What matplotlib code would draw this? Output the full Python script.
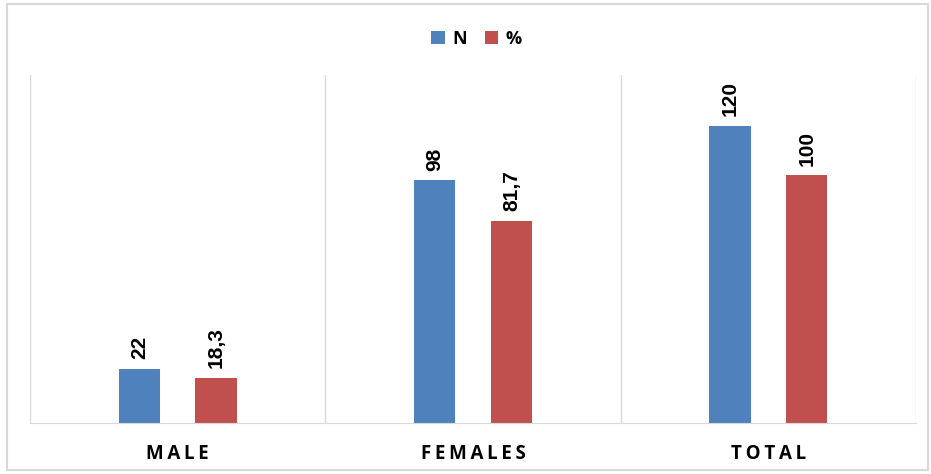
import matplotlib.pyplot as plt
import numpy as np
from matplotlib.patches import Rectangle

# === Data ===
categories = ["MALE", "FEMALES", "TOTAL"]
n_values = [22, 98, 120]
pct_values = [18.3, 81.7, 100]
pct_labels = ["18,3", "81,7", "100"]

blue = "#4f81bd"
red = "#c0504d"
grid_col = "#d9d9d9"

fig = plt.figure(figsize=(9.31, 4.74), dpi=100)
ax = fig.add_axes([30 / 931, 51 / 474, 886 / 931, 348 / 474])

x = np.arange(len(categories))
w = 0.14
off = 0.13
bars_n = ax.bar(x - off, n_values, w, color=blue, label="N")
bars_p = ax.bar(x + off, pct_values, w, color=red, label="%")

# value labels, rotated like the original
lab_font = dict(rotation=90, ha="center", va="bottom", fontsize=15,
                fontweight="bold", family=["Liberation Sans Narrow", "Liberation Sans"])
for b, v in zip(bars_n, n_values):
    ax.annotate(str(v), (b.get_x() + b.get_width() / 2, b.get_height()),
                xytext=(0, 7), textcoords="offset points", **lab_font)
for b, s in zip(bars_p, pct_labels):
    ax.annotate(s, (b.get_x() + b.get_width() / 2, b.get_height()),
                xytext=(0, 7), textcoords="offset points", **lab_font)

ax.set_xlim(-0.5, len(categories) - 0.5)
ax.set_ylim(0, 140.6)

# category separators
for xb in np.arange(-0.5, len(categories), 1.0):
    ax.axvline(xb, color=grid_col, lw=1, zorder=0)

for s in ["top", "left", "right"]:
    ax.spines[s].set_visible(False)
ax.spines["bottom"].set_color(grid_col)
ax.set_yticks([])
ax.set_xticks(x)
# letter-spaced category names
ax.set_xticklabels(["\u2009".join(c) for c in categories], fontsize=13.5,
                   fontweight="bold", family=["Open Sans", "DejaVu Sans"])
ax.tick_params(axis="x", length=0, pad=15)

ax.legend(loc="center", bbox_to_anchor=(0.504, 1.103), ncol=2, frameon=False,
          prop={"family": "Open Sans", "weight": "bold", "size": 13},
          handlelength=0.75, handleheight=0.75, columnspacing=1.0, handletextpad=0.4)

# outer frame of the chart area
fig.patches.append(Rectangle((7 / 931, 4 / 474), 921 / 931, 466 / 474,
                             transform=fig.transFigure, fill=False,
                             edgecolor=grid_col, lw=1.5))

fig.savefig("out.png", dpi=100)
